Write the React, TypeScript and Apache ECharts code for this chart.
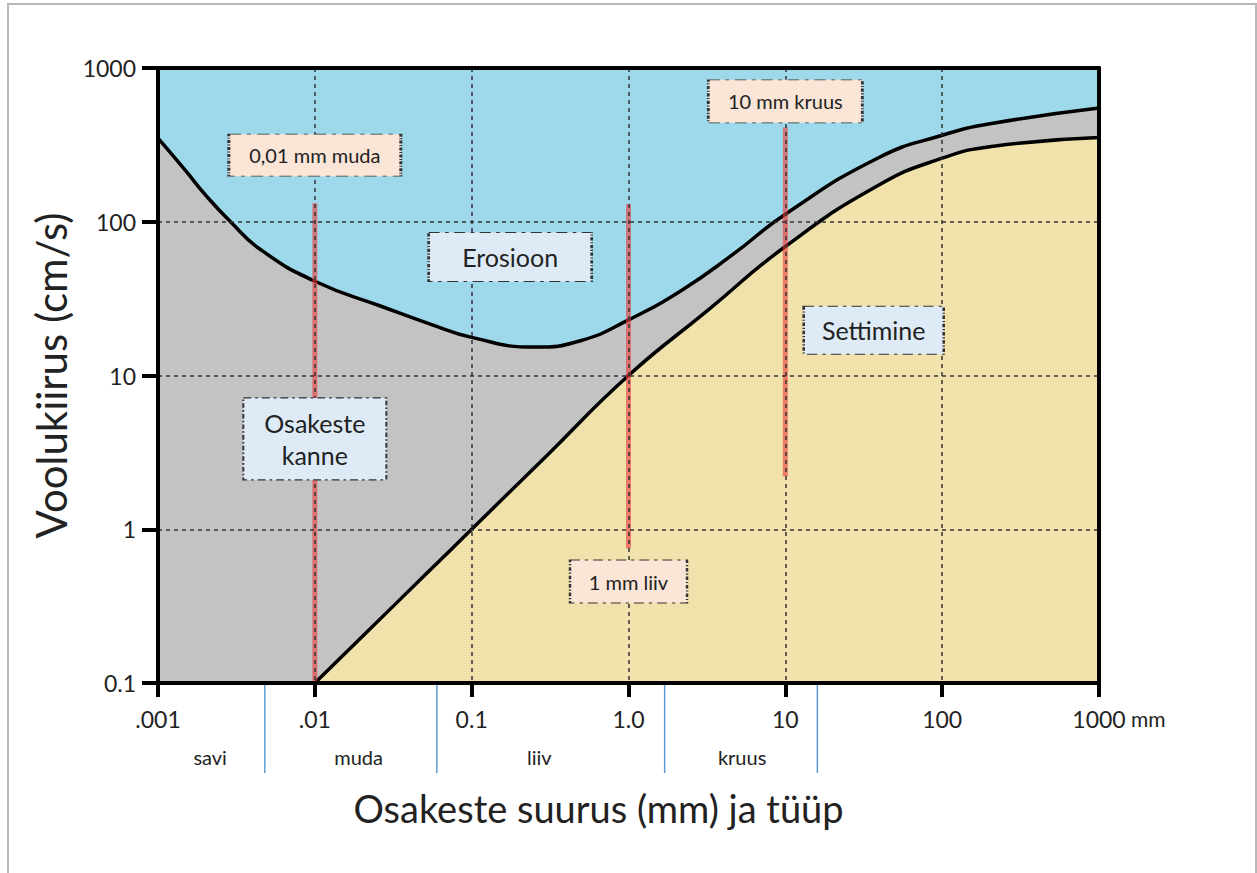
import React, { useEffect, useRef } from "react";
import * as echarts from "echarts";

// ---- axis ticks ----
const xTickLabels = [".001", ".01", "0.1", "1.0", "10", "100", "1000"];
const yTickLabels = ["0.1", "1", "10", "100", "1000"];

// ---- erosion threshold curve (upper boundary of transport band) ----
const erosionX = [0.001, 0.0015, 0.002, 0.0029, 0.0045, 0.01, 0.027, 0.055, 0.1, 0.25, 0.5, 1, 2.2, 4.7, 10, 39, 100, 206, 1000];
const erosionY = [350, 215, 150, 100, 66, 41, 28, 21.5, 17.7, 15.3, 16.9, 23, 36, 62, 112, 260, 365, 435, 550];

// ---- deposition (settling) curve ----
const depositionX = [0.01, 0.02, 0.05, 0.1, 0.3, 1, 3.2, 10, 39, 100, 206, 1000];
const depositionY = [0.1, 0.2, 0.5, 1.0, 3.0, 10, 26.5, 69, 172, 259, 309, 353];

// ---- red sample lines ----
const markerX = [0.01, 1, 10];
const markerTop = [132, 130, 410];
const markerBottom = [0.1, 0.75, 2.2];

// ---- particle size classes ----
const sizeBoundaries = [0.0048, 0.06, 1.7, 16];
const sizeClassNames = ["savi", "muda", "liiv", "kruus"];
const sizeClassX = [0.00215, 0.019, 0.27, 5.3];

// ---- annotation boxes ----
const noteTexts = ["0,01 mm muda", "10 mm kruus", "1 mm liiv", "Erosioon", "Osakeste\nkanne", "Settimine"];
const noteX = [0.01, 10, 1, 0.176, 0.01, 36.6];
const noteY = [271, 607, 0.457, 59, 3.87, 19.7];

const FONT = "Lato, 'Noto Sans', sans-serif";

const noteStyles = [
  { w: 172, h: 42, fs: 20, bg: "#fbe5d6" },
  { w: 154, h: 43, fs: 20, bg: "#fbe5d6" },
  { w: 117, h: 43, fs: 20, bg: "#fbe5d6" },
  { w: 163, h: 49, fs: 25, bg: "#deebf7" },
  { w: 143, h: 82, fs: 25, bg: "#deebf7" },
  { w: 140, h: 48, fs: 25, bg: "#deebf7" },
];

function tickIndex(v: number, offset: number) {
  return Math.round(Math.log10(v)) + offset;
}

export default function App() {
  const ref = useRef<HTMLDivElement>(null);

  useEffect(() => {
    document.body.style.margin = "0";
    if (!ref.current) return;
    const chart = echarts.init(ref.current, undefined, { renderer: "svg" });

    const splitLineStyle = { color: "#333333", width: 1.5, type: [4, 4] as number[] };

    const series: any[] = [
      {
        type: "line",
        name: "erosion",
        data: erosionX.map((x, i) => [x, erosionY[i]]),
        smooth: 0.5,
        symbol: "none",
        silent: true,
        z: 2,
        lineStyle: { color: "#000", width: 3.5 },
        areaStyle: { color: "#c3c3c3", opacity: 1, origin: "start" },
      },
      {
        type: "line",
        name: "deposition",
        data: depositionX.map((x, i) => [x, depositionY[i]]),
        smooth: 0.5,
        symbol: "none",
        silent: true,
        z: 3,
        lineStyle: { color: "#000", width: 3.5 },
        areaStyle: { color: "#f0e2aa", opacity: 1, origin: "start" },
      },
      ...markerX.map((x, i) => ({
        type: "line",
        data: [
          [x, markerBottom[i]],
          [x, markerTop[i]],
        ],
        symbol: "none",
        silent: true,
        z: 4,
        lineStyle: { color: "rgba(235,60,60,0.62)", width: 5, cap: "butt" },
      })),
      {
        type: "scatter",
        silent: true,
        z: 20,
        data: noteTexts.map((t, i) => {
          const s = noteStyles[i];
          return {
            value: [noteX[i], noteY[i]],
            symbol: "rect",
            symbolSize: [s.w, s.h],
            itemStyle: {
              color: s.bg,
              opacity: 1,
              borderColor: "#333",
              borderWidth: 1.5,
              borderType: [6, 3, 2, 3],
            },
            label: {
              show: true,
              position: "inside",
              formatter: t,
              fontSize: s.fs,
              lineHeight: s.fs * 1.25,
              color: "#222",
              fontFamily: FONT,
              align: "center",
            },
          };
        }),
      },
    ];

    const option: any = {
      animation: false,
      backgroundColor: "#ffffff",
      grid: {
        left: 158,
        right: 158,
        top: 68,
        bottom: 190,
        show: true,
        backgroundColor: "#9dd9ea",
        borderWidth: 0,
      },
      xAxis: [
        {
          type: "log",
          logBase: 10,
          min: 0.001,
          max: 1000,
          position: "bottom",
          z: 10,
          axisLine: { show: true, lineStyle: { color: "#000", width: 4 } },
          axisTick: { show: true, length: 14, lineStyle: { color: "#000", width: 4 } },
          axisLabel: {
            margin: 24,
            fontSize: 23,
            color: "#222",
            fontFamily: FONT,
            formatter: (v: number) => {
              const i = tickIndex(v, 3);
              const lab = xTickLabels[i] ?? "";
              if (i === xTickLabels.length - 1) return "{g| mm}" + lab + "{u| mm}";
              return lab;
            },
            rich: {
              g: { fontSize: 21, color: "rgba(0,0,0,0)", fontFamily: FONT },
              u: { fontSize: 21, color: "#222", fontFamily: FONT },
            },
          },
          splitLine: { show: true, showMinLine: false, showMaxLine: false, lineStyle: splitLineStyle },
          name: "Osakeste suurus (mm) ja tüüp",
          nameLocation: "middle",
          nameGap: 106,
          nameTextStyle: { fontSize: 38, color: "#222", fontFamily: FONT, padding: [0, 60, 0, 0] },
        },
        {
          type: "log",
          logBase: 10,
          min: 0.001,
          max: 1000,
          position: "top",
          z: 12,
          axisLine: { show: true, lineStyle: { color: "#000", width: 4 } },
          axisTick: { show: false },
          axisLabel: { show: false },
          splitLine: { show: false },
        },
      ],
      yAxis: [
        {
          type: "log",
          logBase: 10,
          min: 0.1,
          max: 1000,
          position: "left",
          z: 11,
          axisLine: { show: true, lineStyle: { color: "#000", width: 4 } },
          axisTick: { show: true, length: 16, lineStyle: { color: "#000", width: 4 } },
          axisLabel: {
            margin: 22,
            fontSize: 23,
            color: "#222",
            fontFamily: FONT,
            formatter: (v: number) => yTickLabels[tickIndex(v, 1)] ?? "",
          },
          splitLine: { show: true, showMinLine: false, showMaxLine: false, lineStyle: splitLineStyle },
          name: "Voolukiirus (cm/s)",
          nameLocation: "middle",
          nameGap: 50,
          nameTextStyle: { fontSize: 42, color: "#222", fontFamily: FONT },
        },
        {
          type: "log",
          logBase: 10,
          min: 0.1,
          max: 1000,
          position: "right",
          z: 12,
          axisLine: { show: true, lineStyle: { color: "#000", width: 4 } },
          axisTick: { show: false },
          axisLabel: { show: false },
          splitLine: { show: false },
        },
      ],
      series,
    };

    chart.setOption(option);

    const toPx = (x: number, y: number) =>
      chart.convertToPixel({ xAxisIndex: 0, yAxisIndex: 0 }, [x, y]) as number[];

    const graphics: any[] = [
      {
        type: "rect",
        silent: true,
        shape: { x: 8, y: 4, width: 1248, height: 900 },
        style: { fill: "none", stroke: "#b8b8b8", lineWidth: 2 },
      },
    ];
    sizeBoundaries.forEach((b) => {
      const [px, py] = toPx(b, 0.1);
      graphics.push({
        type: "line",
        silent: true,
        shape: { x1: px, y1: py + 2, x2: px, y2: py + 90 },
        style: { stroke: "#5b9bd5", lineWidth: 1.5 },
      });
    });
    sizeClassNames.forEach((n, i) => {
      const [px, py] = toPx(sizeClassX[i], 0.1);
      graphics.push({
        type: "text",
        silent: true,
        x: px,
        y: py + 74,
        style: {
          text: n,
          fontSize: 20,
          fill: "#222",
          align: "center",
          verticalAlign: "middle",
          fontFamily: FONT,
        },
      });
    });
    chart.setOption({ graphic: graphics });

    return () => chart.dispose();
  }, []);

  return <div ref={ref} style={{ width: 1257, height: 873 }} />;
}
